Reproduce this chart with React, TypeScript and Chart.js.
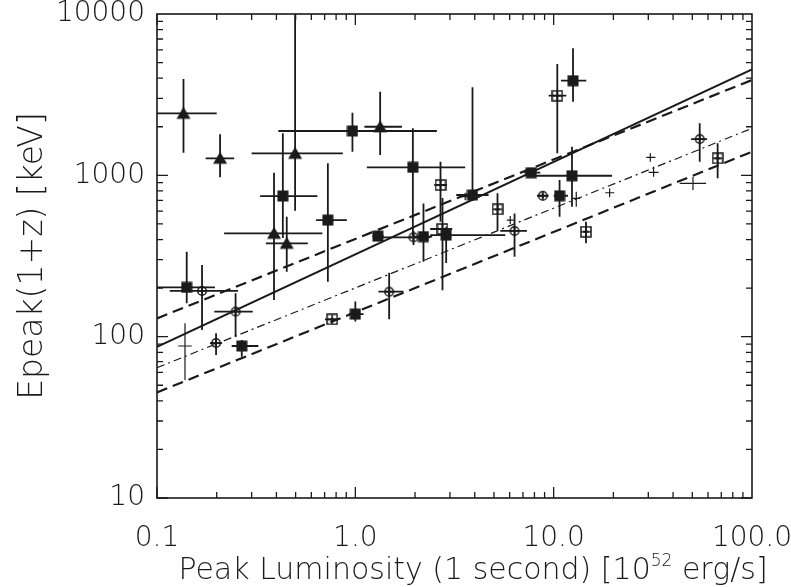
import React, { useEffect, useRef } from "react";
import { Chart, registerables } from "chart.js";
Chart.register(...registerables);

// Each row: [x, y, xLow, xHigh, yLow, yHigh]
const filledTriangles = [
  [0.136, 2423, 0.1, 0.2, 1380, 3954],
  [0.208, 1275, 0.176, 0.245, 972, 1795],
  [0.497, 1369, 0.3, 0.865, 603, 10000],
  [0.389, 437, 0.218, 0.682, 169, 1038],
  [0.451, 379, 0.354, 0.576, 253, 554],
  [1.334, 2001, 1.111, 1.717, 1336, 3299],
];
const filledSquares = [
  [0.431, 744, 0.331, 0.644, 409, 1822],
  [0.727, 528, 0.634, 0.906, 219, 1187],
  [0.967, 1883, 0.409, 2.577, 1400, 2443],
  [1.95, 1121, 1.143, 3.58, 420, 1955],
  [1.299, 420, 1.22, 1.39, 391, 452],
  [2.206, 417, 1.98, 2.44, 291, 670],
  [2.871, 426, 2.385, 5.7, 286, 480],
  [3.897, 755, 3.225, 4.695, 693, 3514],
  [7.71, 1038, 7.11, 8.56, 969, 1090],
  [12.37, 994, 7.62, 19.69, 639, 1504],
  [10.71, 747, 10.0, 11.8, 554, 935],
  [12.52, 3860, 10.88, 14.6, 2860, 6129],
  [0.1412, 202, 0.1, 0.196, 161, 336],
  [0.2675, 87.5, 0.238, 0.3245, 75, 95.3],
  [1.0, 138, 0.925, 1.1, 124, 165],
];
const openSquares = [
  [2.688, 871, 2.5, 2.9, 516, 1214],
  [2.751, 465, 2.385, 3.08, 194, 723],
  [5.21, 616, 5.05, 5.37, 458, 773],
  [14.55, 447, 14.1, 15.0, 379, 516],
  [10.43, 3116, 9.43, 11.58, 1369, 4898],
  [67.1, 1275, 64.7, 69.6, 958, 1579],
  [0.764, 128, 0.703, 0.819, 124, 132],
];
const openCircles = [
  [0.1687, 192, 0.116, 0.256, 110, 278],
  [0.1985, 91.3, 0.185, 0.213, 76.9, 105],
  [0.249, 143, 0.1945, 0.304, 100, 185.6],
  [1.481, 190, 1.308, 1.749, 128, 249],
  [1.964, 413, 1.334, 2.385, 370, 453],
  [6.35, 452, 5.38, 7.33, 313, 581],
  [8.81, 747, 8.24, 9.43, 720, 775],
  [54.5, 1679, 49.3, 59.4, 1214, 2101],
];
const plusPoints = [
  [0.1384, 87.5, 0.128, 0.1497, 53.8, 121],
  [6.04, 528, 5.8, 6.3, 499, 559],
  [3.58, 737, 3.4, 3.8, 700, 780],
  [13.0, 720, 12.4, 13.6, 639, 791],
  [19.15, 780, 18.2, 20.2, 731, 830],
  [30.7, 1293, 29.3, 32.6, 1214, 1369],
  [31.9, 1044, 30.1, 33.8, 980, 1131],
  [50.4, 892, 43.2, 58.7, 811, 980],
];

// Fit lines (endpoints read at the plot edges)
const fitX = [0.1, 100];
const solidFitY = [86.6, 4541];
const upperDashedY = [129.8, 3898];
const dashDotY = [64.2, 1956];
const lowerDashedY = [45.1, 1401];

const xTickValues = [0.1, 1, 10, 100];
const xTickLabels = ["0.1", "1.0", "10.0", "100.0"];
const yTickValues = [10, 100, 1000, 10000];
const yTickLabels = ["10", "100", "1000", "10000"];

const xTitleMain = "Peak Luminosity (1 second) [10";
const xTitleSup = "52";
const xTitleEnd = " erg/s]";
const yTitle = "Epeak(1+z) [keV]";

const FONT = "'DejaVu Sans', sans-serif";
const INK = "#1a1a1a";

function makeMarker(kind: string): HTMLCanvasElement {
  const c = document.createElement("canvas");
  const s = kind === "tri" ? 16 : 12;
  c.width = s;
  c.height = s;
  const g = c.getContext("2d")!;
  g.fillStyle = INK;
  g.strokeStyle = INK;
  if (kind === "tri") {
    g.beginPath();
    g.moveTo(s / 2, 1.5);
    g.lineTo(s - 1, s - 2.5);
    g.lineTo(1, s - 2.5);
    g.closePath();
    g.fill();
  } else if (kind === "sq") {
    g.fillRect(0.5, 0.5, 11, 11);
  } else if (kind === "osq") {
    g.lineWidth = 1.5;
    g.strokeRect(1, 1, 10, 10);
    g.beginPath();
    g.moveTo(6, 1);
    g.lineTo(6, 11);
    g.moveTo(1, 6);
    g.lineTo(11, 6);
    g.stroke();
  } else if (kind === "oc") {
    g.lineWidth = 1.5;
    g.beginPath();
    g.arc(6, 6, 4.3, 0, Math.PI * 2);
    g.stroke();
    g.beginPath();
    g.moveTo(6, 1);
    g.lineTo(6, 11);
    g.moveTo(1, 6);
    g.lineTo(11, 6);
    g.stroke();
  }
  return c;
}

function toPoints(rows: number[][]) {
  return rows.map((r) => ({ x: r[0], y: r[1], xMin: r[2], xMax: r[3], yMin: r[4], yMax: r[5] }));
}

function fitLine(ys: number[]) {
  return fitX.map((x, i) => ({ x, y: ys[i] }));
}

const errorBarPlugin = {
  id: "errorBars",
  beforeDatasetsDraw(chart: any) {
    const { ctx, chartArea, scales } = chart;
    const xs = scales.x;
    const ys = scales.y;
    ctx.save();
    ctx.beginPath();
    ctx.rect(chartArea.left, chartArea.top, chartArea.right - chartArea.left, chartArea.bottom - chartArea.top);
    ctx.clip();
    chart.data.datasets.forEach((ds: any) => {
      if (!ds.errorBarWidth) return;
      ctx.strokeStyle = INK;
      ctx.lineWidth = ds.errorBarWidth;
      ctx.lineCap = "butt";
      ds.data.forEach((p: any) => {
        const px = xs.getPixelForValue(p.x);
        const py = ys.getPixelForValue(p.y);
        ctx.beginPath();
        ctx.moveTo(xs.getPixelForValue(p.xMin), py);
        ctx.lineTo(xs.getPixelForValue(p.xMax), py);
        ctx.moveTo(px, ys.getPixelForValue(p.yMin));
        ctx.lineTo(px, ys.getPixelForValue(p.yMax));
        ctx.stroke();
      });
    });
    ctx.restore();
  },
};

const framePlugin = {
  id: "frameTicks",
  afterDraw(chart: any) {
    const { ctx, chartArea, scales } = chart;
    const { left, right, top, bottom } = chartArea;
    const xs = scales.x;
    const ys = scales.y;
    ctx.save();
    ctx.strokeStyle = INK;
    ctx.lineWidth = 1.6;
    ctx.strokeRect(left, top, right - left, bottom - top);
    ctx.lineWidth = 1.3;
    ctx.beginPath();
    for (let d = -1; d < 2; d++) {
      for (let m = 1; m <= 9; m++) {
        const v = m * Math.pow(10, d);
        const len = m === 1 ? 11 : 6;
        const px = xs.getPixelForValue(v);
        ctx.moveTo(px, bottom);
        ctx.lineTo(px, bottom - len);
        ctx.moveTo(px, top);
        ctx.lineTo(px, top + len);
      }
    }
    for (let d = 1; d < 4; d++) {
      for (let m = 1; m <= 9; m++) {
        const v = m * Math.pow(10, d);
        const len = m === 1 ? 11 : 6;
        const py = ys.getPixelForValue(v);
        ctx.moveTo(left, py);
        ctx.lineTo(left + len, py);
        ctx.moveTo(right, py);
        ctx.lineTo(right - len, py);
      }
    }
    ctx.stroke();

    // axis titles
    ctx.fillStyle = INK;
    ctx.textBaseline = "alphabetic";
    const mainFont = `200 30px ${FONT}`;
    const supFont = `200 17px ${FONT}`;
    ctx.font = mainFont;
    const w1 = ctx.measureText(xTitleMain).width;
    const w3 = ctx.measureText(xTitleEnd).width;
    ctx.font = supFont;
    const w2 = ctx.measureText(xTitleSup).width;
    const total = w1 + w2 + w3;
    let tx = 473 - total / 2;
    const ty = 579;
    ctx.font = mainFont;
    ctx.textAlign = "left";
    ctx.fillText(xTitleMain, tx, ty);
    tx += w1;
    ctx.font = supFont;
    ctx.fillText(xTitleSup, tx, ty - 13);
    tx += w2;
    ctx.font = mainFont;
    ctx.fillText(xTitleEnd, tx, ty);

    ctx.translate(33, 256);
    ctx.rotate(-Math.PI / 2);
    ctx.font = `200 33px ${FONT}`;
    ctx.textAlign = "center";
    ctx.textBaseline = "middle";
    ctx.fillText(yTitle, 0, 0);
    ctx.restore();
  },
};

export default function App() {
  const ref = useRef<HTMLCanvasElement>(null);
  useEffect(() => {
    document.body.style.margin = "0";
    const canvas = ref.current!;
    const tickFont = { family: FONT, size: 28, weight: "200" as any };
    const chart = new Chart(canvas, {
      type: "scatter",
      data: {
        datasets: [
          {
            label: "solid fit",
            data: fitLine(solidFitY),
            showLine: true,
            borderColor: INK,
            borderWidth: 2,
            pointRadius: 0,
          },
          {
            label: "upper dashed",
            data: fitLine(upperDashedY),
            showLine: true,
            borderColor: INK,
            borderWidth: 2.2,
            borderDash: [11, 6],
            pointRadius: 0,
          },
          {
            label: "dash-dot",
            data: fitLine(dashDotY),
            showLine: true,
            borderColor: INK,
            borderWidth: 1.2,
            borderDash: [8, 4, 2, 4],
            pointRadius: 0,
          },
          {
            label: "lower dashed",
            data: fitLine(lowerDashedY),
            showLine: true,
            borderColor: INK,
            borderWidth: 2.2,
            borderDash: [11, 6],
            pointRadius: 0,
          },
          {
            label: "triangles",
            data: toPoints(filledTriangles),
            pointStyle: makeMarker("tri"),
            pointRadius: 6,
            errorBarWidth: 1.8,
          } as any,
          {
            label: "squares",
            data: toPoints(filledSquares),
            pointStyle: makeMarker("sq"),
            pointRadius: 6,
            errorBarWidth: 1.8,
          } as any,
          {
            label: "open squares",
            data: toPoints(openSquares),
            pointStyle: makeMarker("osq"),
            pointRadius: 6,
            errorBarWidth: 1.8,
          } as any,
          {
            label: "open circles",
            data: toPoints(openCircles),
            pointStyle: makeMarker("oc"),
            pointRadius: 6,
            errorBarWidth: 1.8,
          } as any,
          {
            label: "plus",
            data: toPoints(plusPoints),
            pointRadius: 0,
            errorBarWidth: 1.2,
          } as any,
        ],
      },
      options: {
        animation: false,
        responsive: false,
        maintainAspectRatio: false,
        layout: { padding: { left: 0, right: 39, top: 14, bottom: 0 } },
        plugins: { legend: { display: false }, tooltip: { enabled: false } },
        scales: {
          x: {
            type: "logarithmic",
            min: 0.1,
            max: 100,
            grid: { display: false, drawTicks: false },
            border: { display: false },
            ticks: {
              font: tickFont,
              color: INK,
              padding: 24,
              maxRotation: 0,
              autoSkip: false,
              callback: (v: any) => {
                const i = xTickValues.findIndex((t) => Math.abs(t - v) / t < 1e-6);
                return i >= 0 ? xTickLabels[i] : "";
              },
            },
            afterBuildTicks: (s: any) => {
              s.ticks = xTickValues.map((v) => ({ value: v }));
            },
            afterFit: (s: any) => {
              s.height = 89;
              s.paddingLeft = 0;
              s.paddingRight = 0;
            },
          },
          y: {
            type: "logarithmic",
            min: 10,
            max: 10000,
            grid: { display: false, drawTicks: false },
            border: { display: false },
            ticks: {
              font: tickFont,
              color: INK,
              padding: 12,
              autoSkip: false,
              callback: (v: any) => {
                const i = yTickValues.findIndex((t) => Math.abs(t - v) / t < 1e-6);
                return i >= 0 ? yTickLabels[i] : "";
              },
            },
            afterBuildTicks: (s: any) => {
              s.ticks = yTickValues.map((v) => ({ value: v }));
            },
            afterFit: (s: any) => {
              s.width = 157;
              s.paddingTop = 0;
              s.paddingBottom = 0;
            },
          },
        },
      },
      plugins: [errorBarPlugin, framePlugin],
    });
    return () => chart.destroy();
  }, []);
  return (
    <div style={{ width: 791, height: 587, background: "#fff" }}>
      <canvas ref={ref} width={791} height={587} style={{ display: "block" }} />
    </div>
  );
}
